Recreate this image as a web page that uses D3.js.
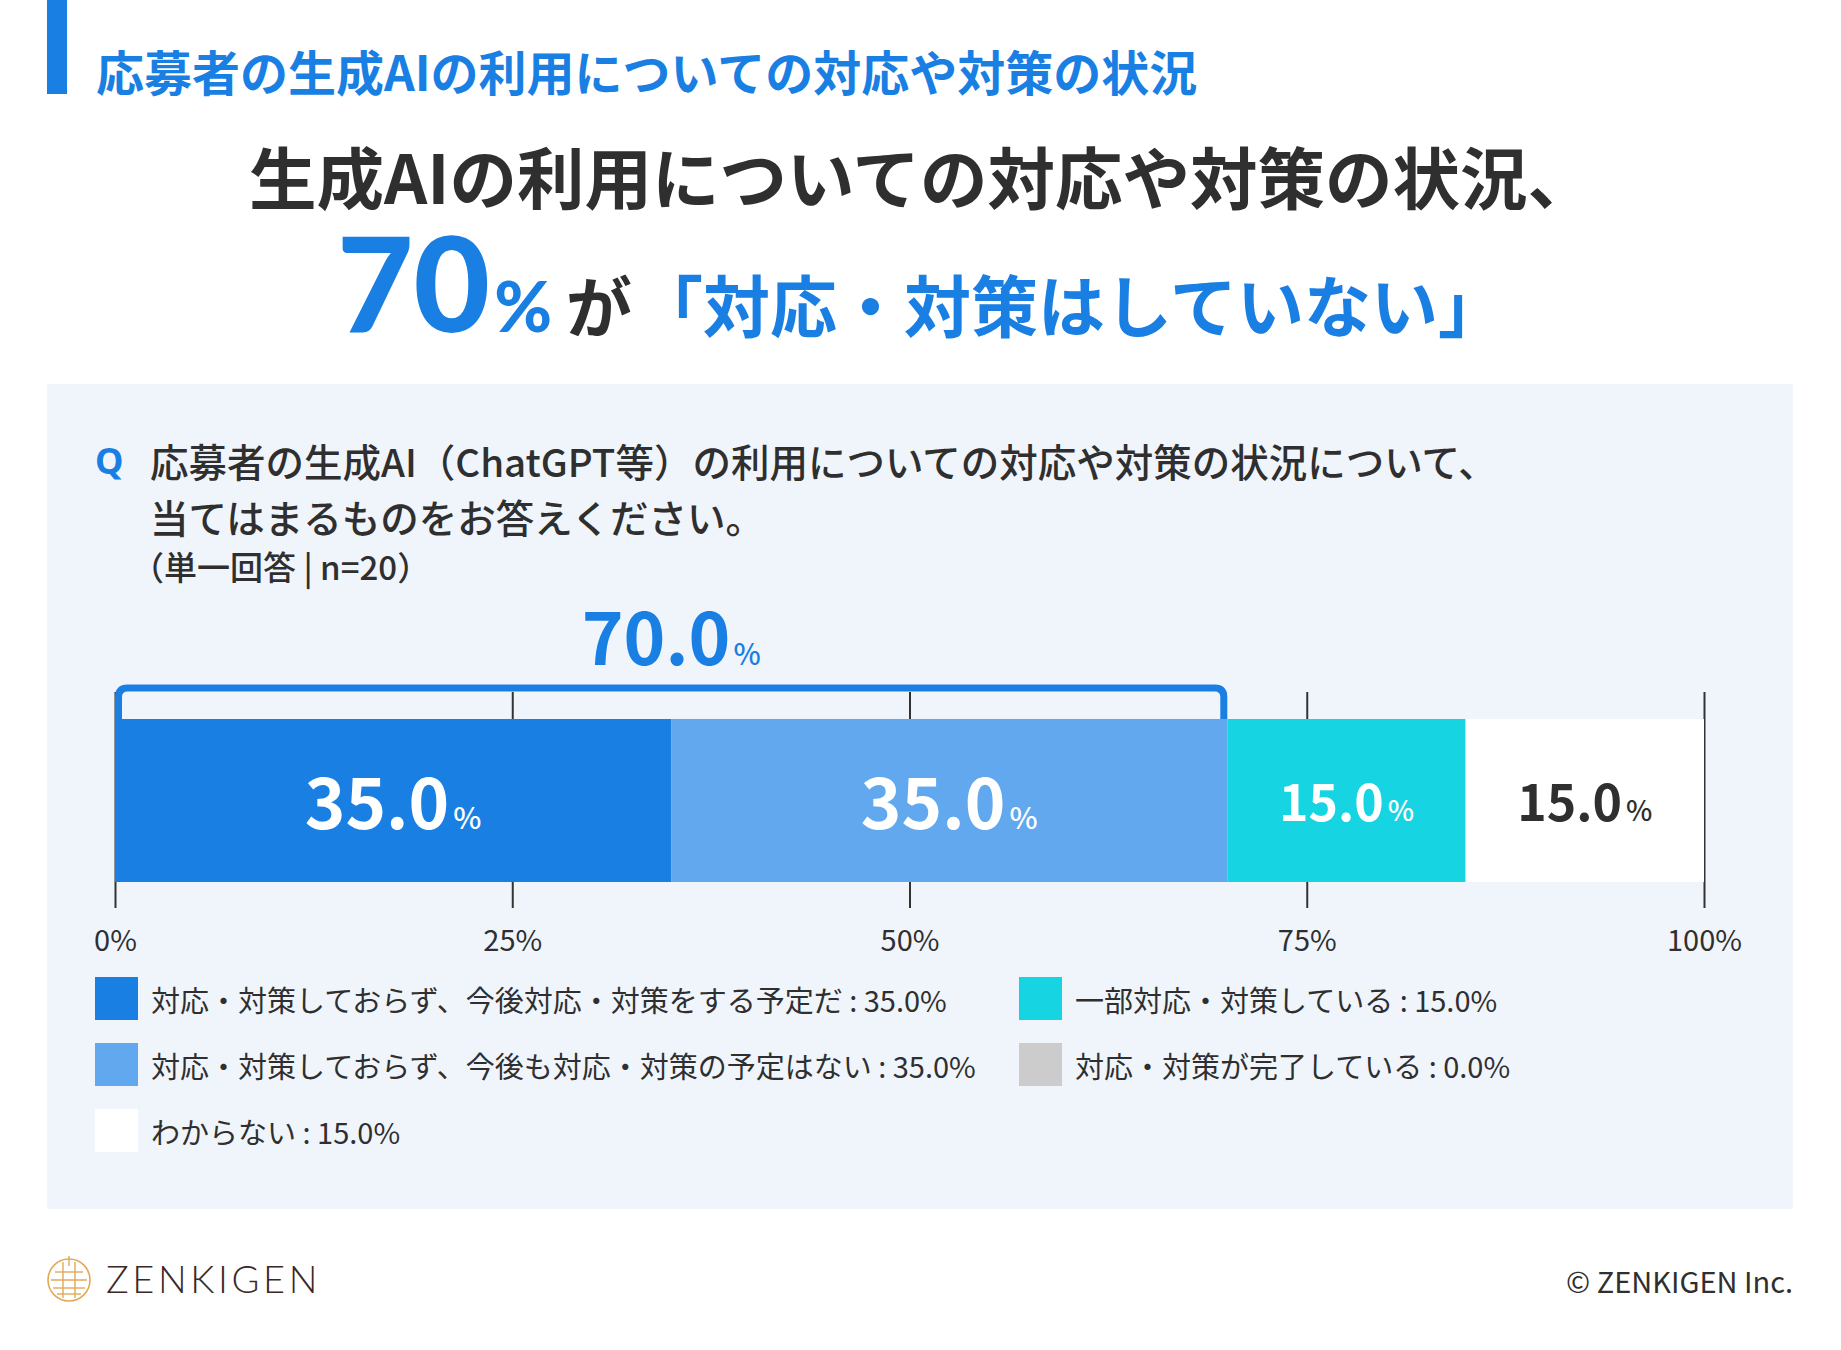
<!DOCTYPE html>
<html lang="ja">
<head>
<meta charset="utf-8">
<script src="https://cdn.jsdelivr.net/npm/d3@7"></script>
<style>
  html, body { margin: 0; padding: 0; background: #fff; }
  svg { display: block; }
  text { font-family: "Noto Sans CJK JP", "Noto Sans", sans-serif; }
</style>
</head>
<body>
<svg id="chart" width="1841" height="1350"></svg>
<script>
// ---------------------------
// data
// ---------------------------
const categories = [
  "対応・対策しておらず、今後対応・対策をする予定だ",
  "対応・対策しておらず、今後も対応・対策の予定はない",
  "一部対応・対策している",
  "対応・対策が完了している",
  "わからない"
];
const values = [35.0, 35.0, 15.0, 0.0, 15.0];
const tickValues = [0, 25, 50, 75, 100];
const legendOrder = [0, 2, 1, 3, 4];   // row by row, two columns
const sampleNote = "（単一回答 | n=20）";

// styles
const colors = ["#1a7fe3", "#62a8ee", "#17d4e3", "#cccccc", "#ffffff"];
const labelColors = ["#ffffff", "#ffffff", "#ffffff", "#ffffff", "#2f2f2f"];
const blue = "#1a7fe3";
const ink = "#2f2f2f";

const svg = d3.select("#chart");

// header accent + small title
svg.append("rect").attr("x", 47).attr("y", 0).attr("width", 20).attr("height", 94).attr("fill", blue);
svg.append("text")
  .attr("x", 96).attr("y", 70)
  .attr("dominant-baseline", "central")
  .attr("font-size", 48).attr("font-weight", 700).attr("fill", blue)
  .text("応募者の生成AIの利用についての対応や対策の状況");

// headline
svg.append("text")
  .attr("x", 922).attr("y", 174)
  .attr("text-anchor", "middle").attr("dominant-baseline", "central")
  .attr("font-size", 67.5).attr("font-weight", 700).attr("fill", ink)
  .text("生成AIの利用についての対応や対策の状況、");

const total = values[0] + values[1];
const head2 = svg.append("text").attr("x", 337).attr("y", 332);
head2.append("tspan")
  .style("font-family", "Lato, sans-serif")
  .attr("font-size", 132).attr("font-weight", 900).attr("fill", blue)
  .text(d3.format(".0f")(total));
head2.append("tspan").attr("dx", 4)
  .style("font-family", "Lato, sans-serif")
  .attr("font-size", 70).attr("font-weight", 900).attr("fill", blue)
  .text("%");
head2.append("tspan").attr("dx", 14)
  .attr("font-size", 66).attr("font-weight", 700).attr("fill", ink)
  .text("が");
head2.append("tspan").attr("dx", 4)
  .attr("font-size", 67).attr("font-weight", 700).attr("fill", blue)
  .text("「対応・対策はしていない」");

// panel
svg.append("rect").attr("x", 47).attr("y", 384).attr("width", 1746).attr("height", 825).attr("fill", "#f0f5fc");

// question
svg.append("text")
  .attr("x", 95).attr("y", 460).attr("dominant-baseline", "central")
  .style("font-family", "'Noto Sans', sans-serif")
  .attr("font-size", 36).attr("font-weight", 700).attr("fill", blue)
  .text("Q");
const qLines = [
  "応募者の生成AI（ChatGPT等）の利用についての対応や対策の状況について、",
  "当てはまるものをお答えください。"
];
svg.selectAll(".qline").data(qLines).enter().append("text")
  .attr("class", "qline")
  .attr("x", 150).attr("y", (d, i) => 460 + i * 56)
  .attr("dominant-baseline", "central")
  .attr("font-size", 38.5).attr("font-weight", 500).attr("fill", ink)
  .text(d => d);
svg.append("text")
  .attr("x", 131).attr("y", 566).attr("dominant-baseline", "central")
  .attr("font-size", 33).attr("font-weight", 500).attr("fill", ink)
  .text(sampleNote);

// scales
const x = d3.scaleLinear().domain([0, 100]).range([115, 1704]);
const y = d3.scaleBand().domain(["all"]).range([719, 882]).padding(0);
const gridTop = 692, gridBottom = 908;

// axis with gridlines drawn up through the bar
const axis = d3.axisBottom(x)
  .tickValues(tickValues)
  .tickFormat(d => d + "%")
  .tickSizeInner(-(gridBottom - gridTop))
  .tickSizeOuter(0)
  .tickPadding(22);
const gAxis = svg.append("g").attr("transform", `translate(0,${gridBottom})`).call(axis);
gAxis.select(".domain").remove();
gAxis.selectAll(".tick line").attr("stroke", "#333").attr("stroke-width", 2);
gAxis.selectAll(".tick text")
  .attr("fill", ink).attr("font-size", 29)
  .style("font-family", "'Noto Sans CJK JP', sans-serif");

// stacked segments
const starts = values.map((v, i) => d3.sum(values.slice(0, i)));
const segs = values.map((v, i) => ({ i, v, x0: starts[i], x1: starts[i] + v }));

svg.append("g").selectAll("rect")
  .data(segs)
  .enter().append("rect")
  .attr("x", d => x(d.x0))
  .attr("y", y("all"))
  .attr("width", d => x(d.x1) - x(d.x0))
  .attr("height", y.bandwidth())
  .attr("fill", d => colors[d.i]);

// value labels inside segments
const labelled = segs.filter(d => d.v > 0);
const lab = svg.append("g").selectAll("text")
  .data(labelled)
  .enter().append("text")
  .attr("x", d => x((d.x0 + d.x1) / 2))
  .attr("y", d => d.v >= 30 ? 829 : 821)
  .attr("text-anchor", "middle")
  .attr("fill", d => labelColors[d.i])
  .attr("font-weight", 700);
lab.append("tspan")
  .attr("font-size", d => d.v >= 30 ? 69 : 50)
  .text(d => d3.format(".1f")(d.v));
lab.append("tspan")
  .attr("dx", 4)
  .attr("font-size", d => d.v >= 30 ? 30 : 28)
  .attr("font-weight", 500)
  .text("%");

// bracket over the "not handled" share (stroke kept inside the 0–70% span)
const r = 9, bTop = 688, sw = 7;
const bx0 = x(0) + sw / 2, bx1 = x(total) - sw / 2;
svg.append("path")
  .attr("d", `M${bx0},${y("all")} L${bx0},${bTop + r} Q${bx0},${bTop} ${bx0 + r},${bTop}
              L${bx1 - r},${bTop} Q${bx1},${bTop} ${bx1},${bTop + r} L${bx1},${y("all")}`)
  .attr("fill", "none").attr("stroke", blue).attr("stroke-width", sw).attr("stroke-linejoin", "round");

const tot = svg.append("text")
  .attr("x", x(total / 2)).attr("y", 665)
  .attr("text-anchor", "middle").attr("fill", blue).attr("font-weight", 700);
tot.append("tspan").attr("font-size", 71).text(d3.format(".1f")(total));
tot.append("tspan").attr("dx", 3).attr("font-size", 29).attr("font-weight", 500).text("%");

// legend
const legend = svg.append("g").selectAll("g")
  .data(legendOrder)
  .enter().append("g")
  .attr("transform", (d, k) => `translate(${k % 2 === 0 ? 95 : 1019},${977 + Math.floor(k / 2) * 66})`);
legend.append("rect")
  .attr("width", 43).attr("height", 43)
  .attr("fill", d => colors[d]);
legend.append("text")
  .attr("x", 56).attr("y", 21.5)
  .attr("dominant-baseline", "central")
  .attr("font-size", 29).attr("fill", ink)
  .text(d => `${categories[d]} : ${d3.format(".1f")(values[d])}%`);

// footer logo
const logo = svg.append("g").attr("transform", "translate(69,1280)");
logo.append("circle").attr("r", 21).attr("fill", "none").attr("stroke", "#e2a955").attr("stroke-width", 1.6);
[[-14, -8, 14, -8], [-18, 0, 18, 0], [-16, 8, 16, 8], [-6, -18, -6, 18], [6, -18, 6, 18], [0, -24, 0, -14], [-12, 14, 12, 14]]
  .forEach(l => logo.append("line")
    .attr("x1", l[0]).attr("y1", l[1]).attr("x2", l[2]).attr("y2", l[3])
    .attr("stroke", "#e2a955").attr("stroke-width", 1.4));
svg.append("text")
  .attr("x", 106).attr("y", 1293)
  .style("font-family", "Lato, sans-serif")
  .attr("font-size", 38).attr("font-weight", 300).attr("letter-spacing", 3.6)
  .attr("fill", "#3b2828")
  .text("ZENKIGEN");

svg.append("text")
  .attr("x", 1793).attr("y", 1280)
  .attr("text-anchor", "end").attr("dominant-baseline", "central")
  .attr("font-size", 29).attr("fill", ink)
  .text("© ZENKIGEN Inc.");
</script>
</body>
</html>
